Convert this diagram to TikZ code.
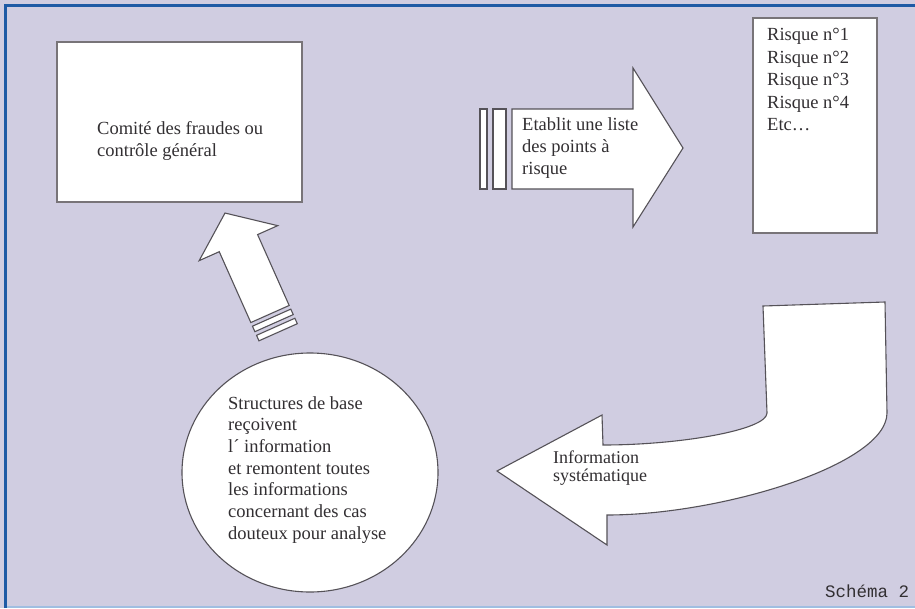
\documentclass[tikz,border=0pt]{standalone}
\usepackage{fontspec}
\setmainfont{Liberation Serif}
\newfontfamily\monofont{Liberation Mono}
\usetikzlibrary{shapes.geometric}
\definecolor{bgcol}{RGB}{208,205,225}
\definecolor{framecol}{RGB}{30,90,165}
\definecolor{framelight}{RGB}{160,190,225}
\definecolor{edgecol}{RGB}{85,82,88}
\definecolor{rboxedge}{RGB}{120,116,120}
\definecolor{txtcol}{RGB}{50,47,50}
\begin{document}
\begin{tikzpicture}[x=1pt,y=-1pt,
 rbox/.style={draw=rboxedge, line width=1.8pt, fill=white, inner sep=0pt},
 blk/.style={draw=edgecol, line width=1.1pt, fill=white, line join=miter},
 lbl/.style={text=txtcol, font=\fontsize{18.5}{22}\selectfont, align=left, inner sep=0pt, anchor=north west}]
\fill[bgcol] (0,0) rectangle (915,608);
\useasboundingbox (0,0) rectangle (915,608);

% Comite box
\node[rbox, minimum width=245pt, minimum height=160pt] (comite) at (179.5,122) {};
\node[lbl] (comitetxt) at (97,121) {Comité des fraudes ou\\contrôle général};

% Risques box
\node[rbox, minimum width=124pt, minimum height=215pt] (risques) at (815,125.5) {};
\node[lbl, font=\fontsize{18.5}{22.5}\selectfont] (risquetxt) at (767,28) {Risque n°1\\Risque n°2\\Risque n°3\\Risque n°4\\Etc…};

% Right arrow
\draw[blk] (480,109) -- (487,109) -- (487,189) -- (480,189) -- cycle;
\draw[blk] (493,109) -- (506,109) -- (506,189) -- (493,189) -- cycle;
\draw[blk] (512,109) -- (633,109) -- (633,68) -- (683,148) -- (633,227) -- (633,189) -- (512,189) -- cycle;
\node[lbl] (etablit) at (522,117.5) {Etablit une liste\\des points à\\risque};

% Up arrow
\begin{scope}[shift={(270,314)}, x={(-0.407pt,0.913pt)}, y={(0.913pt,0.407pt)}]
\draw[blk] (0,-21) -- (77.6,-21) -- (77.6,-43) -- (110.6,0) -- (77.6,43) -- (77.6,21) -- (0,21) -- cycle;
\draw[blk] (-4,-21) -- (-10,-21) -- (-10,21) -- (-4,21) -- cycle;
\draw[blk] (-14,-21) -- (-20,-21) -- (-20,21) -- (-14,21) -- cycle;
\end{scope}

% Circle
\node[blk, ellipse, minimum width=256pt, minimum height=239pt, inner sep=0pt] (base) at (310,472.5) {};
\node[lbl, font=\fontsize{18.5}{21.7}\selectfont] (basetxt) at (228,396) {Structures de base\\reçoivent\\l´ information\\et remontent toutes\\les informations\\concernant des cas\\douteux pour analyse};

% Curved arrow
\draw[blk] (763,306) -- (885,302) -- (887,413) .. controls (887,465) and (720,515) .. (607,515) -- (607,545) -- (497,471) -- (602,415) -- (603,445) .. controls (680,445) and (767,430) .. (767,413) -- cycle;
\node[lbl, font=\fontsize{18}{17.5}\selectfont] (infotxt) at (553,451) {Information\\systématique};

% Caption
\node[anchor=base west, inner sep=0pt, text=txtcol, font=\monofont\fontsize{17.5}{17.5}\selectfont] (schema) at (825,597) {Schéma 2};

% Frame
\draw[framelight, line width=2pt] (5,606.5) -- (915,606.5);
\draw[framecol, line width=3pt] (5,608) -- (5,5) -- (915,5);
\end{tikzpicture}
\end{document}
